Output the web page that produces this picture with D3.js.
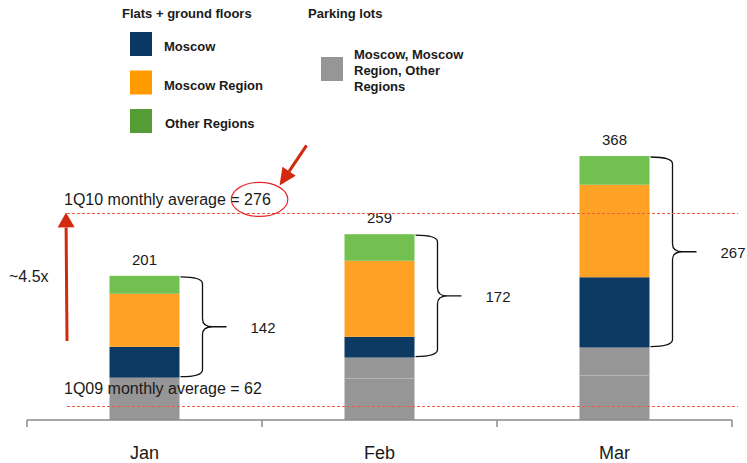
<!DOCTYPE html>
<html>
<head>
<meta charset="utf-8">
<script src="https://cdn.jsdelivr.net/npm/d3@7"></script>
<style>
  html, body { margin: 0; padding: 0; background: #fff; }
  svg { display: block; font-family: "Liberation Sans", Arial, sans-serif; }
</style>
</head>
<body>
<svg id="chart" width="747" height="463"></svg>
<script>
// sales by month, 1Q10 (units)
const MONTHS = ["Jan", "Feb", "Mar"];
const PARKING_LOW = [59, 58, 62];
const PARKING_HIGH = [0, 29, 39];
const MOSCOW = [43, 29, 98];
const MOSCOW_REGION = [74, 106, 129];
const OTHER_REGIONS = [25, 37, 40];

const FLATS_LEGEND = ["Moscow", "Moscow Region", "Other Regions"];
const PARKING_LEGEND = ["Moscow, Moscow", "Region, Other", "Regions"];

// levels where the average lines sit on the chart (drawn position, not the value)
const AVERAGES = [
  { label: "1Q10 monthly average = 276", level: 288 },
  { label: "1Q09 monthly average = 62", level: 20 },
];
const GROWTH_LABEL = "~4.5x";

const BAR_COLORS = ["#969696", "#969696", "#0c3a63", "#ffa124", "#72c04f"];
const LEGEND_COLORS = ["#0b3862", "#ff9b00", "#559c35"];
const RED = "#d3290f";
const TEXT = "#1a1a1a";

const svg = d3.select("#chart");

const x = d3.scaleBand().domain(MONTHS).range([27, 732]).padding(0);
const y = d3.scaleLinear().domain([0, 368]).range([420, 156]);
const BAR_W = 70;

const rows = MONTHS.map((m, i) => ({
  month: m,
  parkLow: PARKING_LOW[i],
  parkHigh: PARKING_HIGH[i],
  moscow: MOSCOW[i],
  region: MOSCOW_REGION[i],
  other: OTHER_REGIONS[i],
}));
const keys = ["parkLow", "parkHigh", "moscow", "region", "other"];
const stack = d3.stack().keys(keys)(rows);

const barX = (m) => x(m) + (x.bandwidth() - BAR_W) / 2;

// bars
const gBars = svg.append("g");
stack.forEach((layer, li) => {
  gBars
    .append("g")
    .selectAll("rect")
    .data(layer)
    .join("rect")
    .attr("x", (d) => barX(d.data.month))
    .attr("width", BAR_W)
    .attr("y", (d) => y(d[1]))
    .attr("height", (d) => y(d[0]) - y(d[1]))
    .attr("fill", BAR_COLORS[li]);
});

// faint split inside the grey parking block
gBars
  .selectAll("line.split")
  .data(rows.filter((d) => d.parkHigh > 0))
  .join("line")
  .attr("class", "split")
  .attr("x1", (d) => barX(d.month))
  .attr("x2", (d) => barX(d.month) + BAR_W)
  .attr("y1", (d) => y(d.parkLow))
  .attr("y2", (d) => y(d.parkLow))
  .attr("stroke", "#b4b4b4")
  .attr("stroke-width", 1);

// totals above bars
svg
  .append("g")
  .selectAll("text")
  .data(rows)
  .join("text")
  .attr("x", (d) => x(d.month) + x.bandwidth() / 2)
  .attr("y", (d) => y(d.parkLow + d.parkHigh + d.moscow + d.region + d.other) - 11)
  .attr("text-anchor", "middle")
  .attr("font-size", 15)
  .attr("fill", TEXT)
  .text((d) => d.parkLow + d.parkHigh + d.moscow + d.region + d.other);

// braces for flats + ground floors
function bracePath(x0, y0, y1) {
  const xv = x0 + 22;
  const xt = x0 + 46;
  const ym = (y0 + y1) / 2;
  const r = 8;
  return [
    `M${x0},${y0 + 1}`,
    `Q${xv},${y0 + 1} ${xv},${y0 + r}`,
    `L${xv},${ym - r}`,
    `Q${xv},${ym} ${xv + 10},${ym}`,
    `L${xt},${ym}`,
    `M${xv + 10},${ym}`,
    `Q${xv},${ym} ${xv},${ym + r}`,
    `L${xv},${y1 - r}`,
    `Q${xv},${y1 - 1} ${x0},${y1 - 1}`,
  ].join(" ");
}
const gBrace = svg.append("g");
rows.forEach((d) => {
  const base = d.parkLow + d.parkHigh;
  const flats = d.moscow + d.region + d.other;
  const x0 = barX(d.month) + BAR_W + 1;
  gBrace
    .append("path")
    .attr("d", bracePath(x0, y(base + flats), y(base)))
    .attr("fill", "none")
    .attr("stroke", "#111")
    .attr("stroke-width", 1.3);
  gBrace
    .append("text")
    .attr("x", x0 + 70)
    .attr("y", (y(base + flats) + y(base)) / 2 + 6)
    .attr("font-size", 15)
    .attr("fill", TEXT)
    .text(flats);
});

// x axis: line with ticks at band edges
const gAxis = svg.append("g").attr("stroke", "#8a8a8a").attr("stroke-width", 1.5);
gAxis.append("line").attr("x1", x.range()[0]).attr("x2", x.range()[1]).attr("y1", y(0)).attr("y2", y(0));
gAxis
  .selectAll("line.tick")
  .data([...MONTHS.map((m) => x(m)), x.range()[1]])
  .join("line")
  .attr("class", "tick")
  .attr("x1", (d) => d)
  .attr("x2", (d) => d)
  .attr("y1", y(0))
  .attr("y2", y(0) + 7);
svg
  .append("g")
  .selectAll("text")
  .data(MONTHS)
  .join("text")
  .attr("x", (d) => x(d) + x.bandwidth() / 2)
  .attr("y", 459)
  .attr("text-anchor", "middle")
  .attr("font-size", 18)
  .attr("fill", TEXT)
  .text((d) => d);

// average lines
const gAvg = svg.append("g");
gAvg
  .selectAll("line")
  .data(AVERAGES)
  .join("line")
  .attr("x1", 67)
  .attr("x2", 738)
  .attr("y1", (d) => Math.round(y(d.level)) + 0.5)
  .attr("y2", (d) => Math.round(y(d.level)) + 0.5)
  .attr("stroke", "#ec5f42")
  .attr("stroke-width", 1.2)
  .attr("stroke-dasharray", "3,2");
const avgText = gAvg
  .selectAll("text")
  .data(AVERAGES)
  .join("text")
  .attr("x", 64)
  .attr("y", (d, i) => y(d.level) - (i === 0 ? 8 : 12))
  .attr("font-size", 16)
  .attr("fill", TEXT)
  .text((d) => d.label);

// red ellipse around the 1Q10 value
const topText = avgText.nodes()[0];
const full = AVERAGES[0].label;
const eqPos = full.indexOf("=");
const startX = 64 + topText.getSubStringLength(0, eqPos);
const endX = 64 + topText.getComputedTextLength();
const cx = (startX + endX) / 2 + 9;
const cy = y(AVERAGES[0].level) - 14;
svg
  .append("ellipse")
  .attr("cx", cx)
  .attr("cy", cy)
  .attr("rx", (endX - startX) / 2 + 8)
  .attr("ry", 17)
  .attr("fill", "none")
  .attr("stroke", "#e8262a")
  .attr("stroke-width", 1.2);

// arrows
function arrow(x1, y1, x2, y2, head, half) {
  const a = Math.atan2(y2 - y1, x2 - x1);
  const bx = x2 - head * Math.cos(a);
  const by = y2 - head * Math.sin(a);
  const g = svg.append("g");
  g.append("line")
    .attr("x1", x1)
    .attr("y1", y1)
    .attr("x2", bx)
    .attr("y2", by)
    .attr("stroke", RED)
    .attr("stroke-width", 3);
  const px = -Math.sin(a) * half;
  const py = Math.cos(a) * half;
  g.append("path")
    .attr("d", `M${x2},${y2} L${bx + px},${by + py} L${bx - px},${by - py} Z`)
    .attr("fill", RED);
}
arrow(67, y(110), 66, y(AVERAGES[0].level) - 1, 15, 8.5);
arrow(cx + 47, cy - 54, cx + 20, cy - 14, 17, 8);

svg
  .append("text")
  .attr("x", 9)
  .attr("y", 282)
  .attr("font-size", 16)
  .attr("fill", TEXT)
  .text(GROWTH_LABEL);

// legend
const gLeg = svg.append("g").attr("font-size", 13).attr("font-weight", 700).attr("fill", TEXT);
gLeg.append("text").attr("x", 122).attr("y", 18).text("Flats + ground floors");
gLeg.append("text").attr("x", 308).attr("y", 18).text("Parking lots");
FLATS_LEGEND.forEach((label, i) => {
  const top = 32 + i * 38.5;
  gLeg.append("rect").attr("x", 130).attr("y", top).attr("width", 22).attr("height", 24).attr("fill", LEGEND_COLORS[i]);
  gLeg.append("text").attr("x", 164 + (i === 2 ? 1 : 0)).attr("y", top + 19).text(label);
});
gLeg.append("rect").attr("x", 321).attr("y", 57).attr("width", 22).attr("height", 24).attr("fill", "#969696");
PARKING_LEGEND.forEach((label, i) => {
  gLeg.append("text").attr("x", 354).attr("y", 59 + i * 16).text(label);
});
</script>
</body>
</html>
